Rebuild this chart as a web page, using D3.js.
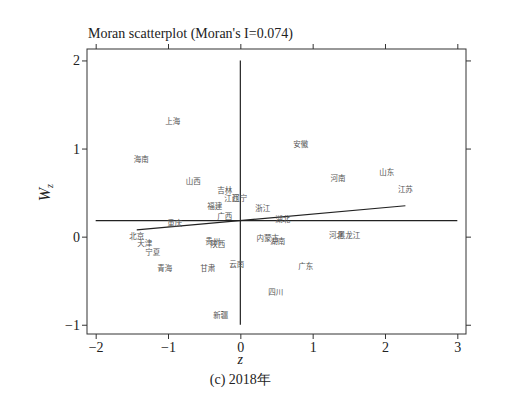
<!DOCTYPE html>
<html>
<head>
<meta charset="utf-8">
<script src="https://cdn.jsdelivr.net/npm/d3@7"></script>
<style>
  body { margin: 0; background: #fff; }
  text { font-family: "Liberation Serif", "DejaVu Serif", serif; }
</style>
</head>
<body>
<script>
// provinces, standardised z and spatial lag Wz
const provinces = ['上海', '海南', '山西', '吉林', '江西', '辽宁', '福建', '广西', '浙江', '湖北',
  '重庆', '北京', '天津', '宁夏', '青海', '甘肃', '贵州', '陕西', '云南', '内蒙古',
  '湖南', '河北', '黑龙江', '广东', '四川', '新疆', '安徽', '河南', '山东', '江苏'];
const zValues = [-0.934, -1.369, -0.650, -0.214, -0.118, -0.007, -0.353, -0.214, 0.311, 0.588,
  -0.906, -1.432, -1.321, -1.210, -1.044, -0.450, -0.380, -0.311, -0.048, 0.380,
  0.519, 1.328, 1.501, 0.906, 0.491, -0.270, 0.837, 1.349, 2.026, 2.282];
const wzValues = [1.313, 0.887, 0.643, 0.530, 0.450, 0.450, 0.348, 0.235, 0.331, 0.201,
  0.155, 0.008, -0.071, -0.174, -0.355, -0.355, -0.049, -0.083, -0.310, -0.015,
  -0.049, 0.019, 0.019, -0.332, -0.627, -0.888, 1.063, 0.666, 0.745, 0.541];
const xTicks = [-2, -1, 0, 1, 2, 3];
const yTicks = [-1, 0, 1, 2];
const moranI = 0.074;
const meanWz = 0.182;

const width = 524, height = 394;
const box = {left: 87, right: 466, top: 49, bottom: 334};

const svg = d3.select('body').append('svg')
  .attr('width', width)
  .attr('height', height);

const x = d3.scaleLinear().domain([-2.12, 3.12]).range([box.left, box.right]);
const y = d3.scaleLinear().domain([-1.105, 2.13]).range([box.bottom, box.top]);

const fmt = d => d < 0 ? '\u2212' + Math.abs(d) : String(d);

// axes: labelled on bottom/left, bare ticks on top/right
const axes = [
  svg.append('g').attr('transform', `translate(0,${box.bottom})`)
    .call(d3.axisBottom(x).tickValues(xTicks).tickFormat(fmt).tickSize(5).tickPadding(3)),
  svg.append('g').attr('transform', `translate(${box.left},0)`)
    .call(d3.axisLeft(y).tickValues(yTicks).tickFormat(fmt).tickSize(5).tickPadding(2)),
  svg.append('g').attr('transform', `translate(0,${box.top})`)
    .call(d3.axisTop(x).tickValues(xTicks).tickFormat('').tickSize(5)),
  svg.append('g').attr('transform', `translate(${box.right},0)`)
    .call(d3.axisRight(y).tickValues(yTicks).tickFormat('').tickSize(5))
];
axes.forEach(g => g.attr('font-family', '"Liberation Serif", serif').attr('font-size', 14));

svg.selectAll('.domain').remove();
svg.selectAll('.tick line').attr('stroke', '#333');
svg.selectAll('.tick text').attr('fill', '#222');

svg.append('rect')
  .attr('x', box.left).attr('y', box.top)
  .attr('width', box.right - box.left).attr('height', box.bottom - box.top)
  .attr('fill', 'none').attr('stroke', '#333').attr('stroke-width', 1);

// reference lines
svg.append('line')
  .attr('x1', x(-2)).attr('x2', x(3))
  .attr('y1', y(meanWz)).attr('y2', y(meanWz))
  .attr('stroke', '#222').attr('stroke-width', 1.2);
svg.append('line')
  .attr('x1', x(0)).attr('x2', x(0))
  .attr('y1', y(2)).attr('y2', y(-1))
  .attr('stroke', '#222').attr('stroke-width', 1.2);

const zMin = d3.min(zValues), zMax = d3.max(zValues);
svg.append('line')
  .attr('x1', x(zMin)).attr('x2', x(zMax))
  .attr('y1', y(meanWz + moranI * zMin)).attr('y2', y(meanWz + moranI * zMax))
  .attr('stroke', '#222').attr('stroke-width', 1.2);

// province labels as points
svg.append('g').selectAll('text')
  .data(provinces)
  .enter().append('text')
  .attr('x', (d, i) => x(zValues[i]))
  .attr('y', (d, i) => y(wzValues[i]))
  .attr('text-anchor', 'middle')
  .attr('dominant-baseline', 'central')
  .attr('fill', '#555')
  .style('font-family', '"Noto Sans CJK SC", sans-serif')
  .style('font-size', '7.5px')
  .text(d => d);

// titles
svg.append('text')
  .attr('x', box.left + 1).attr('y', 38)
  .style('font-size', '14px')
  .attr('fill', '#222')
  .text("Moran scatterplot (Moran's I=0.074)");

svg.append('text')
  .attr('x', x(0)).attr('y', 364)
  .attr('text-anchor', 'middle')
  .style('font-size', '14px')
  .style('font-style', 'italic')
  .attr('fill', '#222')
  .text('z');

const yl = svg.append('text')
  .attr('transform', `translate(50,${y(0.5)}) rotate(-90)`)
  .attr('text-anchor', 'middle')
  .style('font-size', '16px')
  .style('font-style', 'italic')
  .attr('fill', '#222');
yl.append('tspan').text('W');
yl.append('tspan').attr('dy', 3).style('font-size', '10px').text('z');

svg.append('text')
  .attr('x', x(0)).attr('y', 384)
  .attr('text-anchor', 'middle')
  .style('font-size', '14px')
  .attr('fill', '#222')
  .text('(c) 2018年');
</script>
</body>
</html>
